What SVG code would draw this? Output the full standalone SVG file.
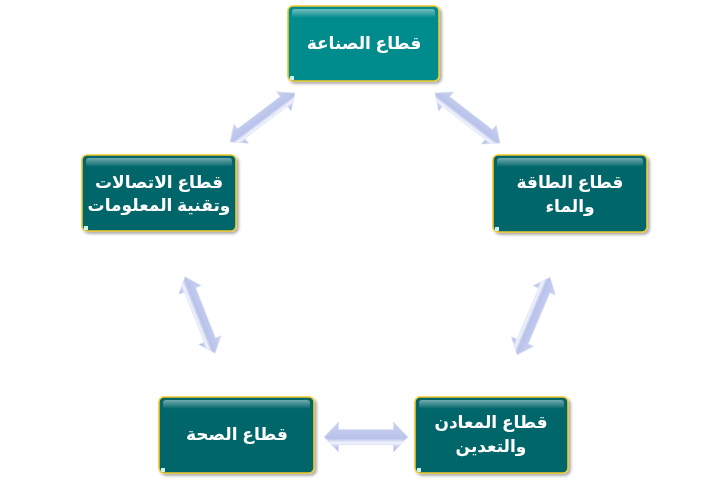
<svg xmlns="http://www.w3.org/2000/svg" width="720" height="490" viewBox="0 0 720 490">
<style>
.box{stroke:#EFC92E;stroke-width:1.6}
.t{font-family:"Liberation Sans","DejaVu Sans",sans-serif;font-weight:bold;font-size:17px;fill:#FFFFFF;text-anchor:middle}
.arr{fill:url(#ag);stroke:#D8DDF4;stroke-width:0.6}
</style>
<defs>
<linearGradient id="ag" x1="0" y1="0" x2="0" y2="1">
<stop offset="0" stop-color="#CCD3F1"/>
<stop offset="0.55" stop-color="#B8C2EA"/>
<stop offset="0.7" stop-color="#F4F6FD"/>
<stop offset="0.82" stop-color="#C4CCEE"/>
<stop offset="1" stop-color="#A8B4E2"/>
</linearGradient>
<linearGradient id="hl" x1="0" y1="0" x2="0" y2="1">
<stop offset="0" stop-color="#FFFFFF" stop-opacity="0.45"/>
<stop offset="1" stop-color="#FFFFFF" stop-opacity="0"/>
</linearGradient>
<filter id="sh" x="-10%" y="-10%" width="130%" height="130%">
<feGaussianBlur in="SourceAlpha" stdDeviation="1.5"/>
<feOffset dx="1.5" dy="1.5" result="b"/>
<feComponentTransfer><feFuncA type="linear" slope="0.35"/></feComponentTransfer>
<feMerge><feMergeNode/><feMergeNode in="SourceGraphic"/></feMerge>
</filter>
<path id="da" d="M-41,0 L-27,-15 L-27,-7.5 L27,-7.5 L27,-15 L41,0 L27,15 L27,7.5 L-27,7.5 L-27,15 Z"/>
</defs>
<rect width="720" height="490" fill="#FFFFFF"/>
<g id="connectors">
<use href="#da" class="arr" transform="translate(262.5,117.5) rotate(-37) scale(0.99,0.8)"/>
<use href="#da" class="arr" transform="translate(467.5,118) rotate(37.6) scale(1,0.8)"/>
<use href="#da" class="arr" transform="translate(200,315) rotate(68.5) scale(1,0.8)"/>
<use href="#da" class="arr" transform="translate(533.5,316) rotate(113) scale(1.03,0.8)"/>
<use href="#da" class="arr" transform="translate(366,437) scale(1.02,1)"/>
</g>
<g id="node-industry" filter="url(#sh)">
<rect class="box" x="288" y="6" width="151" height="75" rx="5" fill="#008B8C"/>
<rect x="292" y="9" width="143" height="9" rx="3" fill="url(#hl)"/>
<rect x="290" y="76" width="4" height="4" fill="#CDEFF0"/>
<text class="t" x="364" y="49">قطاع الصناعة</text>
</g>
<g id="node-ict" filter="url(#sh)">
<rect class="box" x="82" y="155" width="154" height="76" rx="5" fill="#00666B"/>
<rect x="86" y="158" width="146" height="9" rx="3" fill="url(#hl)"/>
<rect x="84" y="226" width="4" height="4" fill="#CDEFF0"/>
<text class="t" x="159" y="188">قطاع الاتصالات</text>
<text class="t" x="159" y="211">وتقنية المعلومات</text>
</g>
<g id="node-energy" filter="url(#sh)">
<rect class="box" x="493" y="155" width="154" height="77" rx="5" fill="#00666B"/>
<rect x="497" y="158" width="146" height="9" rx="3" fill="url(#hl)"/>
<rect x="495" y="227" width="4" height="4" fill="#CDEFF0"/>
<text class="t" x="570" y="188">قطاع الطاقة</text>
<text class="t" x="570" y="212">والماء</text>
</g>
<g id="node-health" filter="url(#sh)">
<rect class="box" x="159" y="397" width="155" height="76" rx="5" fill="#00666B"/>
<rect x="163" y="400" width="147" height="9" rx="3" fill="url(#hl)"/>
<rect x="161" y="468" width="4" height="4" fill="#CDEFF0"/>
<text class="t" x="237" y="440">قطاع الصحة</text>
</g>
<g id="node-mining" filter="url(#sh)">
<rect class="box" x="415" y="397" width="153" height="76" rx="5" fill="#00666B"/>
<rect x="419" y="400" width="145" height="9" rx="3" fill="url(#hl)"/>
<rect x="417" y="468" width="4" height="4" fill="#CDEFF0"/>
<text class="t" x="491" y="428">قطاع المعادن</text>
<text class="t" x="491" y="452">والتعدين</text>
</g>
</svg>
